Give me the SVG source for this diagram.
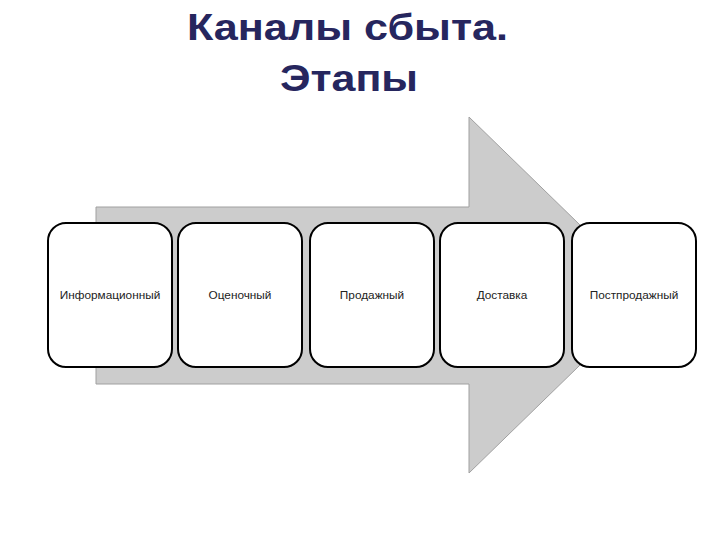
<svg xmlns="http://www.w3.org/2000/svg" width="720" height="540" viewBox="0 0 720 540">
<style>
.title{font-family:"Liberation Sans",Arial,sans-serif;font-weight:bold;font-size:36px;fill:#26265e;text-anchor:middle}
.box{fill:#fff;stroke:#000;stroke-width:2}
.lbl{font-family:"Liberation Sans",Arial,sans-serif;font-size:11.8px;fill:#222;text-anchor:middle}
</style>
<rect width="720" height="540" fill="#fff"/>
<text class="title" x="347.5" y="40" textLength="321" lengthAdjust="spacingAndGlyphs">Каналы сбыта.</text>
<text class="title" x="349" y="91" textLength="138" lengthAdjust="spacingAndGlyphs">Этапы</text>
<g id="arrow">
<polygon points="96,207 469,207 469,117 652,295 469,473 469,384 96,384" fill="#cccccc" stroke="#a0a0a0" stroke-width="1"/>
</g>
<g id="n1"><rect class="box" x="48" y="223" width="124" height="144" rx="18"/><text class="lbl" x="110" y="299">Информационный</text></g>
<g id="n2"><rect class="box" x="178" y="223" width="124" height="144" rx="18"/><text class="lbl" x="240" y="299">Оценочный</text></g>
<g id="n3"><rect class="box" x="310" y="223" width="124" height="144" rx="18"/><text class="lbl" x="372" y="299">Продажный</text></g>
<g id="n4"><rect class="box" x="440" y="223" width="124" height="144" rx="18"/><text class="lbl" x="502" y="299">Доставка</text></g>
<g id="n5"><rect class="box" x="572" y="223" width="124" height="144" rx="18"/><text class="lbl" x="634" y="299">Постпродажный</text></g>
<g id="connectors"></g>
</svg>
